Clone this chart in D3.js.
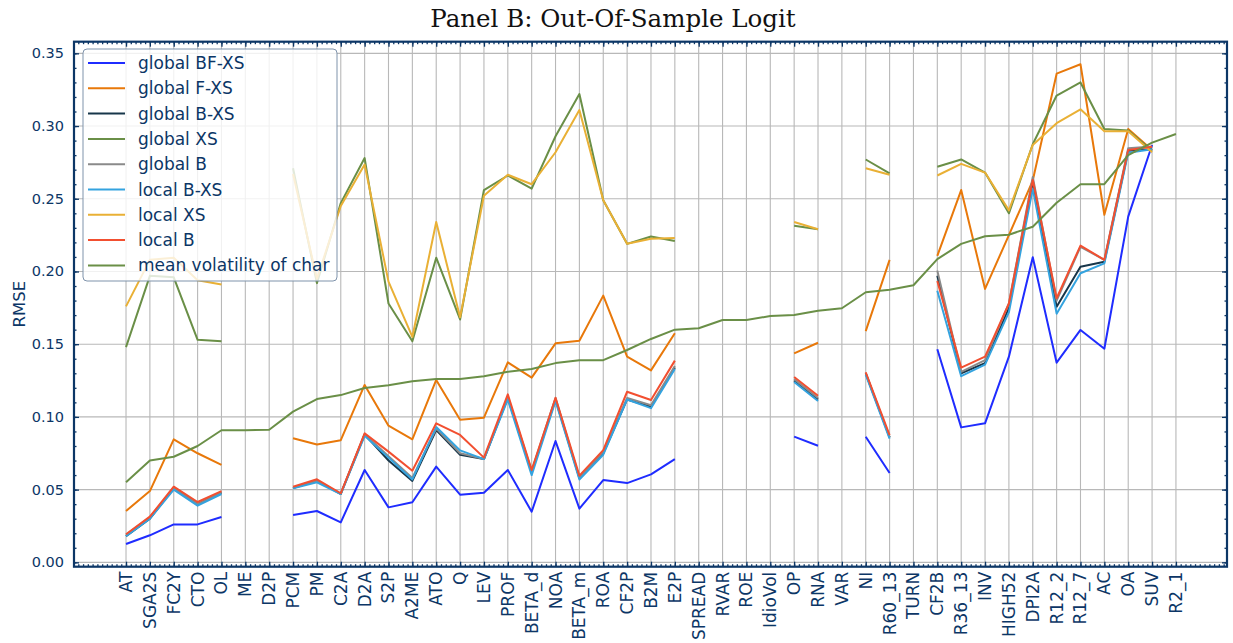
<!DOCTYPE html>
<html>
<head>
<meta charset="utf-8">
<script src="https://cdn.jsdelivr.net/npm/d3@7"></script>
<style>
  html, body { margin: 0; padding: 0; background: #fff; }
  svg { display: block; }
</style>
</head>
<body>
<svg id="chart" width="1233" height="643"></svg>
<script>
// ---------- data ----------
const categories = ["AT","SGA2S","FC2Y","CTO","OL","ME","D2P","PCM","PM","C2A","D2A","S2P","A2ME","ATO","Q","LEV","PROF","BETA_d","NOA","BETA_m","ROA","CF2P","B2M","E2P","SPREAD","RVAR","ROE","IdioVol","OP","RNA","VAR","NI","R60_13","TURN","CF2B","R36_13","INV","HIGH52","DPI2A","R12_2","R12_7","AC","OA","SUV","R2_1"];

const globalBFXS = [0.0126,0.0186,0.0261,0.0261,0.0312,null,null,0.0325,0.0353,0.0275,0.0635,0.0378,0.0413,0.0658,0.0465,0.0479,0.0635,0.0348,0.0834,0.0369,0.0566,0.0545,0.0605,0.071,null,null,null,null,0.0864,0.0802,null,0.0864,0.0614,null,0.1465,0.0928,0.0956,0.1414,0.2098,0.1373,0.1598,0.1469,0.2377,0.287,null];
const globalFXS = [0.0353,0.049,0.0846,0.075,0.067,null,null,0.0853,0.081,0.084,0.122,0.094,0.0846,0.1254,0.098,0.0995,0.1375,0.127,0.1506,0.1524,0.1834,0.1414,0.132,0.1575,null,null,null,null,0.1437,0.151,null,0.159,0.208,null,0.2107,0.256,0.188,0.225,0.2625,0.336,0.3425,0.239,0.298,0.2836,null];
const globalBXS = [0.018,0.030,0.051,0.040,0.048,null,null,0.051,0.056,0.047,0.088,0.070,0.056,0.091,0.074,0.071,0.113,0.062,0.112,0.058,0.075,0.112,0.107,0.134,null,null,null,null,0.125,0.112,null,0.130,0.086,null,0.197,0.130,0.137,0.175,0.260,0.1758,0.2033,0.2067,0.283,0.284,null];
const globalXS = [0.148,0.197,0.196,0.153,0.152,null,null,0.271,0.192,0.247,0.278,0.178,0.152,0.2095,0.167,0.256,0.266,0.257,0.293,0.322,0.249,0.219,0.224,0.221,null,null,null,null,0.2315,0.229,null,0.277,0.2675,null,0.272,0.277,0.268,0.240,0.2875,0.321,0.330,0.298,0.297,0.283,null];
const globalB = [0.019,0.031,0.051,0.040,0.048,null,null,0.051,0.056,0.047,0.088,0.073,0.058,0.092,0.075,0.071,0.114,0.063,0.113,0.058,0.076,0.113,0.108,0.135,null,null,null,null,0.126,0.113,null,0.130,0.086,null,0.2006,0.131,0.139,0.178,0.265,0.180,0.217,0.208,0.2847,0.286,null];
const localBXS = [0.018,0.030,0.050,0.039,0.047,null,null,0.051,0.055,0.047,0.087,0.072,0.057,0.093,0.077,0.071,0.112,0.060,0.111,0.057,0.074,0.112,0.106,0.133,null,null,null,null,0.124,0.111,null,0.129,0.085,null,0.1868,0.128,0.136,0.172,0.257,0.171,0.1988,0.2056,0.2817,0.284,null];
const localXS = [0.176,0.208,0.2095,0.194,0.191,null,null,0.267,0.195,0.245,0.2735,0.193,0.155,0.234,0.1685,0.252,0.2665,0.260,0.282,0.311,0.249,0.219,0.2225,0.223,null,null,null,null,0.234,0.229,null,0.271,0.2665,null,0.266,0.274,0.268,0.242,0.287,0.302,0.3115,0.2965,0.2965,0.282,null];
const localB = [0.0193,0.0314,0.052,0.0415,0.049,null,null,0.052,0.0571,0.0475,0.0887,0.0761,0.063,0.0956,0.0876,0.072,0.1155,0.0635,0.1132,0.0596,0.0772,0.1173,0.1116,0.1387,null,null,null,null,0.1274,0.1146,null,0.1307,0.0875,null,0.1935,0.1339,0.1414,0.178,0.263,0.1816,0.2178,0.208,0.2836,0.2858,null];
const meanVol = [0.055,0.070,0.0726,0.080,0.0908,0.0908,0.0912,0.1036,0.1123,0.115,0.1199,0.1217,0.1245,0.126,0.126,0.128,0.131,0.133,0.137,0.139,0.139,0.146,0.1536,0.160,0.161,0.1666,0.1666,0.1694,0.170,0.173,0.1747,0.1857,0.1875,0.1905,0.2085,0.219,0.2242,0.2253,0.2308,0.2473,0.260,0.260,0.280,0.2886,0.2945];

const seriesNames = ["global BF-XS","global F-XS","global B-XS","global XS","global B","local B-XS","local XS","local B","mean volatility of char"];
const seriesData = [globalBFXS, globalFXS, globalBXS, globalXS, globalB, localBXS, localXS, localB, meanVol];
const seriesColors = ["#1f2cff","#e8780a","#17364a","#6a8f47","#8a8a8a","#34a3df","#e9b035","#f24f30","#6a8f47"];

const yTicks = [0.00,0.05,0.10,0.15,0.20,0.25,0.30,0.35];
const titleText = "Panel B: Out-Of-Sample Logit";
const yLabel = "RMSE";

// ---------- layout ----------
const navy = "#0c3666";
const svg = d3.select("#chart");
const L = 74, R = 1227, T = 41.7, B = 566.7;

const x = d3.scaleLinear().domain([-2.18, categories.length - 1 + 2.14]).range([L, R]);
const y = d3.scaleLinear().domain([-0.003, 0.358]).range([B, T]);

// grid
const g = svg.append("g");
g.selectAll("line.vg").data(categories).join("line")
  .attr("x1", (d,i) => x(i)).attr("x2", (d,i) => x(i))
  .attr("y1", T).attr("y2", B)
  .attr("stroke", "#b8b8b8").attr("stroke-width", 1.1);
g.selectAll("line.hg").data(yTicks).join("line")
  .attr("x1", L).attr("x2", R)
  .attr("y1", d => y(d)).attr("y2", d => y(d))
  .attr("stroke", "#b8b8b8").attr("stroke-width", 1.1);

// series lines
const line = d3.line()
  .defined(d => d != null)
  .x((d,i) => x(i))
  .y(d => y(d));
seriesData.forEach((arr, k) => {
  svg.append("path")
    .datum(arr)
    .attr("fill", "none")
    .attr("stroke", seriesColors[k])
    .attr("stroke-width", 2)
    .attr("stroke-linejoin", "round")
    .attr("d", line);
});

// spines & ticks via axes
const idx = d3.range(categories.length);
const minorX = d3.range(-2.0, categories.length + 2.1, 0.2).filter(v => x(v) > L + 1 && x(v) < R - 1);
const minorY = d3.range(0, 0.3601, 0.01).filter(v => y(v) > T + 1 && y(v) < B - 1);

function axisTicks(axisFn, scale, vals, size, tx, ty) {
  const a = axisFn(scale).tickValues(vals).tickSize(size).tickFormat("");
  const gg = svg.append("g").attr("transform", `translate(${tx},${ty})`).call(a);
  gg.select(".domain").remove();
  gg.selectAll(".tick line").attr("stroke", navy).attr("stroke-width", 1.3);
  return gg;
}
axisTicks(d3.axisTop, x, idx, 5, 0, B);
axisTicks(d3.axisTop, x, minorX, 2.5, 0, B);
axisTicks(d3.axisBottom, x, idx, 5, 0, T);
axisTicks(d3.axisBottom, x, minorX, 2.5, 0, T);
axisTicks(d3.axisRight, y, yTicks, 5, L, 0);
axisTicks(d3.axisRight, y, minorY, 2.5, L, 0);
axisTicks(d3.axisLeft, y, yTicks, 5, R, 0);
axisTicks(d3.axisLeft, y, minorY, 2.5, R, 0);

svg.append("rect").attr("x", L).attr("y", T).attr("width", R - L).attr("height", B - T)
  .attr("fill", "none").attr("stroke", navy).attr("stroke-width", 2.2);

// tick labels
svg.append("g").selectAll("text").data(yTicks).join("text")
  .attr("x", 64).attr("y", d => y(d))
  .attr("text-anchor", "end").attr("dominant-baseline", "central")
  .attr("font-family", "DejaVu Sans").attr("font-size", 14.5).attr("fill", navy)
  .text(d => d3.format(".2f")(d));

svg.append("g").selectAll("text").data(categories).join("text")
  .attr("transform", (d,i) => `translate(${x(i)},${B + 5}) rotate(-90)`)
  .attr("text-anchor", "end").attr("dominant-baseline", "central")
  .attr("font-family", "DejaVu Sans").attr("font-size", 17).attr("fill", navy)
  .text(d => d);

// y label
svg.append("text")
  .attr("transform", `translate(19,${(T + B) / 2}) rotate(-90)`)
  .attr("text-anchor", "middle").attr("dominant-baseline", "central")
  .attr("font-family", "DejaVu Sans").attr("font-size", 16.5).attr("fill", navy)
  .text(yLabel);

// title
svg.append("text")
  .attr("x", 613).attr("y", 27)
  .attr("text-anchor", "middle")
  .attr("font-family", "DejaVu Serif").attr("font-size", 24.5).attr("fill", "#111")
  .text(titleText);

// legend
const lg = svg.append("g");
lg.append("rect").attr("x", 83).attr("y", 49).attr("width", 254).attr("height", 232)
  .attr("rx", 4).attr("fill", "#fff").attr("fill-opacity", 0.8)
  .attr("stroke", "#7f93ab").attr("stroke-width", 1);
seriesNames.forEach((name, k) => {
  const yy = 63 + k * 25.3;
  lg.append("line").attr("x1", 88).attr("x2", 125).attr("y1", yy).attr("y2", yy)
    .attr("stroke", seriesColors[k]).attr("stroke-width", 2);
  lg.append("text").attr("x", 138).attr("y", yy)
    .attr("dominant-baseline", "central")
    .attr("font-family", "DejaVu Sans").attr("font-size", 17).attr("fill", navy)
    .text(name);
});
</script>
</body>
</html>
